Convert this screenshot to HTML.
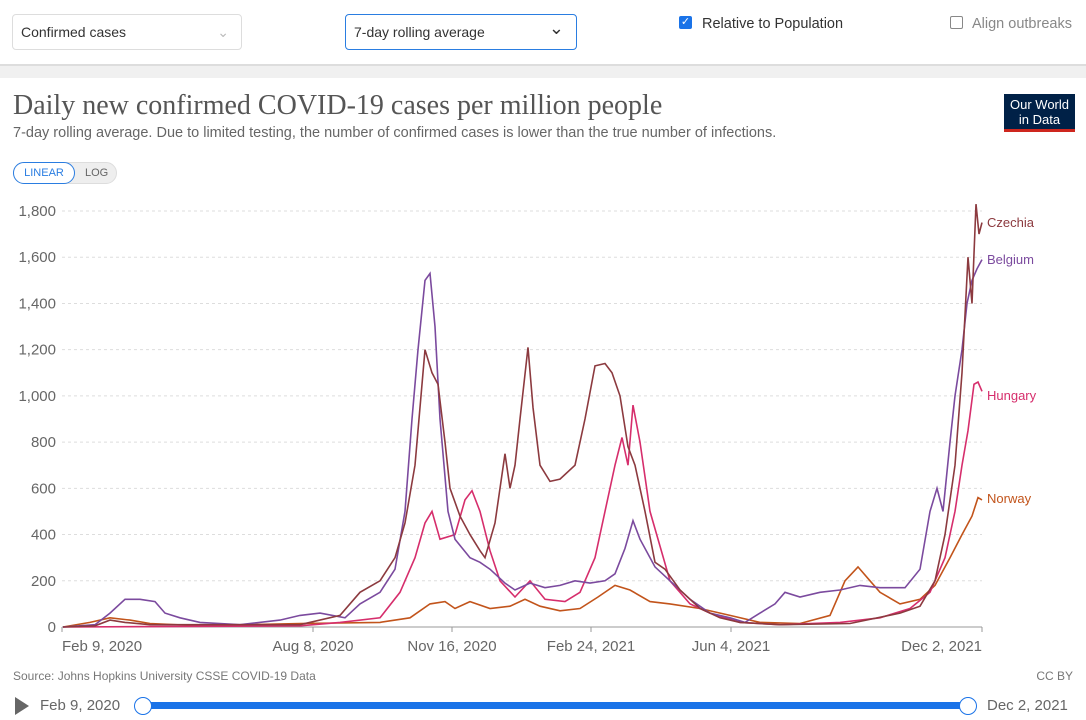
<!DOCTYPE html>
<html><head><meta charset="utf-8"><style>
body{margin:0;width:1086px;height:720px;background:#fff;font-family:"Liberation Sans",sans-serif;overflow:hidden;position:relative}
.sel{position:absolute;border:1px solid #ddd;border-radius:4px;font-size:14px;color:#333;padding-left:8px;box-sizing:border-box;line-height:34px}
</style></head><body>
<div class="sel" style="left:12px;top:14px;width:230px;height:36px">Confirmed cases<span style="position:absolute;right:12px;color:#bbb">&#8964;</span></div>
<div class="sel" style="left:345px;top:14px;width:232px;height:36px;border:1.5px solid #2a7de1">7-day rolling average<span style="position:absolute;right:12px;top:-4px;font-size:18px">&#8964;</span></div>
<div style="position:absolute;left:679px;top:16px;width:13px;height:13px;background:#1a73e8;border-radius:2px;color:#fff;font-size:11px;line-height:13px;text-align:center">✓</div>
<div style="position:absolute;left:702px;top:16px;font-size:14.5px;color:#333">Relative to Population</div>
<div style="position:absolute;left:950px;top:16px;width:11px;height:11px;border:1px solid #888;border-radius:2px"></div>
<div style="position:absolute;left:972px;top:16px;font-size:14.5px;color:#888">Align outbreaks</div>
<div style="position:absolute;left:0;top:64px;width:1086px;height:12px;background:#f0f0f0;border-top:2px solid #ddd"></div>
<div style="position:absolute;left:13px;top:90px;font-family:'Liberation Serif',serif;font-size:28px;color:#555">Daily new confirmed COVID-19 cases per million people</div>
<div style="position:absolute;left:13px;top:125px;font-size:14.5px;color:#666">7-day rolling average. Due to limited testing, the number of confirmed cases is lower than the true number of infections.</div>
<div style="position:absolute;left:1004px;top:94px;width:71px;height:38px;background:#002147;color:#fff;font-size:13px;line-height:15px;text-align:center;padding-top:3px;box-sizing:border-box;border-bottom:3px solid #ce261e">Our World<br>in Data</div>
<div style="position:absolute;left:13px;top:162px;width:104px;height:22px;border-radius:12px;background:#eee;border:1px solid #ddd;box-sizing:border-box"></div>
<div style="position:absolute;left:13px;top:162px;width:62px;height:22px;border-radius:12px;background:#fff;border:1px solid #2a7de1;box-sizing:border-box;color:#2a7de1;font-size:11px;text-align:center;line-height:20px">LINEAR</div>
<div style="position:absolute;left:85px;top:162px;font-size:11px;color:#666;line-height:22px">LOG</div>
<svg id="s" width="1086" height="720" style="position:absolute;left:0;top:0" font-family="Liberation Sans, sans-serif"></svg>
<div style="position:absolute;left:13px;top:669px;font-size:12px;color:#777">Source: Johns Hopkins University CSSE COVID-19 Data</div>
<div style="position:absolute;right:13px;top:669px;font-size:12px;color:#777">CC BY</div>
<div style="position:absolute;left:15px;top:697px;width:0;height:0;border-left:14px solid #666;border-top:9px solid transparent;border-bottom:9px solid transparent"></div>
<div style="position:absolute;left:40px;top:697px;font-size:15px;color:#666">Feb 9, 2020</div>
<div style="position:absolute;left:143px;top:702px;width:825px;height:7px;background:#1a73e8"></div>
<div style="position:absolute;left:134px;top:697px;width:16px;height:16px;border-radius:50%;background:#fff;border:1.5px solid #1a73e8"></div>
<div style="position:absolute;left:959px;top:697px;width:16px;height:16px;border-radius:50%;background:#fff;border:1.5px solid #1a73e8"></div>
<div style="position:absolute;left:987px;top:697px;font-size:15px;color:#666">Dec 2, 2021</div>
<script>
const s=document.getElementById('s');let h='';
const Y=v=>627-v*0.2311;
for(let v=0;v<=1800;v+=200){const y=Y(v);h+=`<line x1="62" x2="982" y1="${y}" y2="${y}" stroke="#ddd" stroke-dasharray="${v?'3,3':''}"/>`;
h+=`<text x="56" y="${y+5}" text-anchor="end" font-size="15" fill="#666">${v.toLocaleString('en-US')}</text>`;}
h+=`<line x1="62" x2="982" y1="627" y2="627" stroke="#999"/>`;
[[62,'Feb 9, 2020'],[313,'Aug 8, 2020'],[452,'Nov 16, 2020'],[591,'Feb 24, 2021'],[731,'Jun 4, 2021'],[982,'Dec 2, 2021']].forEach(([x,t],i)=>{h+=`<line x1="${x}" x2="${x}" y1="627" y2="632" stroke="#999"/><text x="${x}" y="651" font-size="15" fill="#666" text-anchor="${i==0?'start':i==5?'end':'middle'}">${t}</text>`});
const S={
'#c2541b':[[63,0],[90,20],[110,40],[130,30],[150,15],[200,5],[300,15],[380,20],[410,40],[430,100],[445,110],[455,80],[470,110],[490,80],[510,90],[525,120],[540,90],[560,70],[580,80],[598,130],[615,180],[630,160],[650,110],[670,100],[700,80],[730,50],[760,20],[800,15],[830,50],[845,200],[858,260],[870,200],[880,150],[900,100],[920,120],[935,180],[950,300],[962,400],[972,480],[978,560],[982,550]],
'#d62e6c':[[63,0],[300,5],[340,20],[380,40],[400,150],[415,300],[425,450],[432,500],[440,380],[455,400],[465,550],[472,590],[480,500],[490,330],[500,200],[515,130],[530,200],[545,120],[565,110],[580,150],[595,300],[605,500],[615,700],[622,820],[628,700],[633,960],[640,800],[650,500],[660,350],[670,200],[690,100],[710,60],[740,20],[780,10],[840,20],[880,40],[910,80],[930,150],[945,300],[955,500],[962,700],[968,850],[974,1050],[978,1060],[982,1020]],
'#7b4a9e':[[63,0],[95,10],[110,60],[125,120],[140,120],[155,110],[165,60],[180,40],[200,20],[240,10],[280,30],[300,50],[320,60],[345,40],[360,100],[380,150],[395,250],[405,500],[412,900],[418,1200],[425,1500],[430,1530],[435,1300],[440,900],[448,500],[455,380],[470,300],[480,280],[490,250],[505,190],[515,160],[530,190],[545,170],[560,180],[575,200],[590,190],[605,200],[615,230],[625,340],[633,460],[640,380],[655,260],[670,200],[690,120],[710,60],[730,40],[745,20],[760,60],[775,100],[785,150],[800,130],[820,150],[840,160],[860,180],[880,170],[905,170],[920,250],[930,500],[937,600],[943,500],[950,800],[955,1000],[962,1200],[967,1400],[972,1500],[977,1550],[982,1590]],
'#8c3a3f':[[63,0],[95,5],[110,30],[125,20],[150,10],[300,10],[340,50],[360,150],[380,200],[395,300],[405,450],[415,700],[425,1200],[432,1100],[438,1050],[445,800],[450,600],[460,480],[470,400],[480,330],[485,300],[495,450],[505,750],[510,600],[515,700],[520,900],[528,1210],[533,950],[540,700],[550,630],[560,640],[575,700],[585,900],[595,1130],[605,1140],[612,1100],[620,1000],[628,780],[635,700],[645,500],[655,280],[665,250],[680,160],[700,80],[720,40],[740,20],[780,10],[850,15],[900,60],[920,90],[935,200],[945,400],[955,700],[962,1100],[968,1600],[972,1400],[976,1830],[979,1700],[982,1750]]};
for(const c in S)h+=`<polyline fill="none" stroke="${c}" stroke-width="1.6" points="${S[c].map(p=>p[0]+','+Y(p[1]).toFixed(1)).join(' ')}"/>`;
[['Czechia',227,'#8c3a3f'],['Belgium',264,'#7b4a9e'],['Hungary',400,'#d62e6c'],['Norway',503,'#c2541b']].forEach(([t,y,c])=>h+=`<text x="987" y="${y}" font-size="13" fill="${c}">${t}</text>`);
s.innerHTML=h;
</script>
</body></html>
